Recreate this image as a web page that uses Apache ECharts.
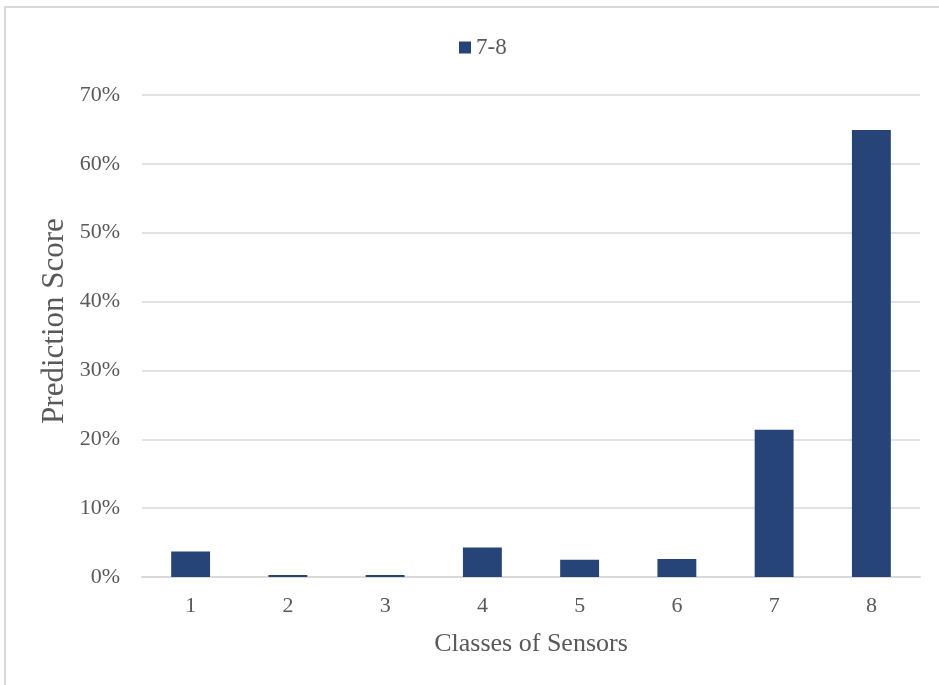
<!DOCTYPE html>
<html>
<head>
<meta charset="utf-8">
<script src="https://cdn.jsdelivr.net/npm/echarts@6/dist/echarts.min.js"></script>
<style>
  html, body { margin: 0; padding: 0; background: #fff; }
  #chart { width: 939px; height: 685px; }
</style>
</head>
<body>
<div id="chart"></div>
<script>
// Sensor classes on the x axis
const classes = ['1', '2', '3', '4', '5', '6', '7', '8'];
// Prediction score per class (fraction of 1)
const scores = [0.037, 0.003, 0.003, 0.043, 0.025, 0.026, 0.214, 0.649];
// Series name shown in the legend
const seriesName = '7-8';
// Y axis range and step
const yMin = 0, yMax = 0.7, yStep = 0.1;

const FONT = '"Liberation Serif", "Times New Roman", serif';
const TEXT = '#595959';
const LINE = '#d9d9d9';

const chart = echarts.init(document.getElementById('chart'), null, { renderer: 'canvas' });
chart.setOption({
  backgroundColor: '#ffffff',
  animation: false,
  textStyle: { fontFamily: FONT },
  graphic: [{
    type: 'rect',
    shape: { x: 5, y: 7, width: 960, height: 700 },
    style: { fill: 'none', stroke: LINE, lineWidth: 2 },
    silent: true
  }, {
    // vertical axis title
    type: 'text',
    x: 55,
    y: 321,
    rotation: Math.PI / 2,
    style: {
      text: 'Prediction Score',
      font: '31px ' + FONT,
      fill: TEXT,
      align: 'center',
      verticalAlign: 'middle'
    },
    silent: true
  }],
  legend: {
    top: 31,
    left: 454,
    itemWidth: 12,
    itemHeight: 12,
    itemGap: 6,
    icon: 'rect',
    textStyle: { fontFamily: FONT, fontSize: 23, color: TEXT },
    data: [seriesName]
  },
  grid: { left: 142, right: 19, top: 95, bottom: 108, containLabel: false },
  xAxis: {
    type: 'category',
    data: classes,
    name: 'Classes of Sensors',
    nameLocation: 'middle',
    nameGap: 54,
    nameTextStyle: { fontFamily: FONT, fontSize: 26, color: TEXT },
    axisLine: { lineStyle: { color: LINE, width: 2 } },
    axisTick: { show: false },
    axisLabel: { fontFamily: FONT, fontSize: 22, color: TEXT, margin: 18 }
  },
  yAxis: {
    type: 'value',
    min: yMin,
    max: yMax,
    interval: yStep,
    axisLine: { show: false },
    axisTick: { show: false },
    splitLine: { lineStyle: { color: LINE, width: 1.5 } },
    axisLabel: {
      fontFamily: FONT, fontSize: 22, color: TEXT, margin: 22,
      formatter: v => Math.round(v * 100) + '%'
    }
  },
  series: [{
    name: seriesName,
    type: 'bar',
    data: scores,
    barWidth: '40%',
    itemStyle: { color: '#264478' }
  }]
});
</script>
</body>
</html>
